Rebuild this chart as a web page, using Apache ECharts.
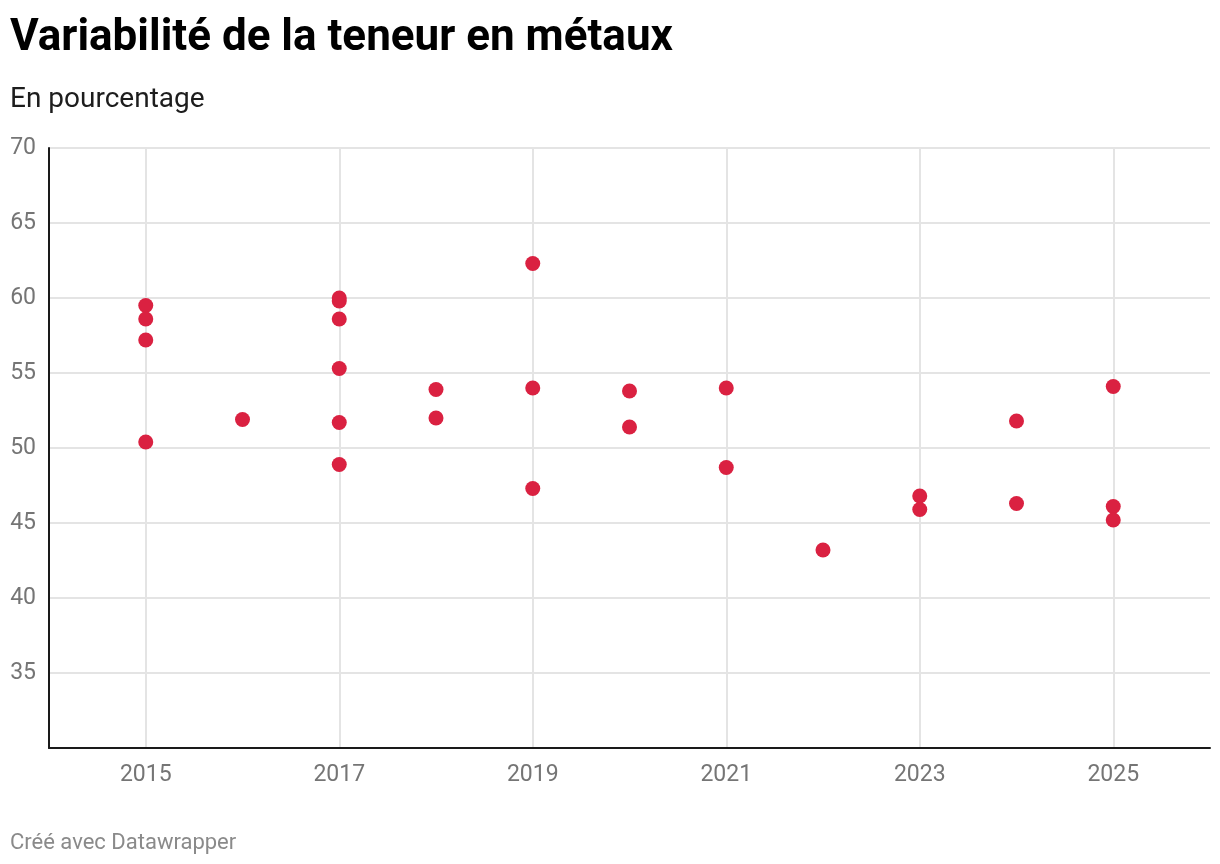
<!DOCTYPE html>
<html>
<head>
<meta charset="utf-8">
<script src="https://cdn.jsdelivr.net/npm/echarts@6/dist/echarts.min.js"></script>
<style>
  html, body { margin: 0; padding: 0; background: #fff; }
  #chart { width: 1220px; height: 864px; }
</style>
</head>
<body>
<div id="chart"></div>
<script>
// axe des années (catégories) et étiquettes affichées
const years = ['2014', '2015', '2016', '2017', '2018', '2019', '2020', '2021', '2022', '2023', '2024', '2025', '2026']
const labelYears = ['2015', '2017', '2019', '2021', '2023', '2025']

// points : année + teneur (%)
const pointYears = [
  '2015', '2015', '2015', '2015',
  '2016',
  '2017', '2017', '2017', '2017', '2017', '2017',
  '2018', '2018',
  '2019', '2019', '2019',
  '2020', '2020',
  '2021', '2021',
  '2022',
  '2023', '2023',
  '2024', '2024',
  '2025', '2025', '2025'
]
const pointValues = [
  59.5, 58.6, 57.2, 50.4,
  51.9,
  60.0, 59.8, 58.6, 55.3, 51.7, 48.9,
  53.9, 52.0,
  62.3, 54.0, 47.3,
  53.8, 51.4,
  54.0, 48.7,
  43.2,
  46.8, 45.9,
  51.8, 46.3,
  54.1, 46.1, 45.2
]

const chart = echarts.init(document.getElementById('chart'))

const showYear = (idx) => labelYears.includes(years[idx])

const option = {
  backgroundColor: '#ffffff',
  animation: false,
  title: [
    {
      text: 'Variabilité de la teneur en métaux',
      left: 10,
      top: 17,
      padding: 0,
      textStyle: { fontFamily: 'Roboto', fontWeight: 'bold', fontSize: 44, color: '#000000' }
    },
    {
      text: 'En pourcentage',
      left: 10,
      top: 86,
      padding: 0,
      textStyle: { fontFamily: 'Roboto', fontWeight: 'normal', fontSize: 28, color: '#1d1d1d' }
    },
    {
      text: 'Créé avec Datawrapper',
      left: 10,
      top: 832,
      padding: 0,
      textStyle: { fontFamily: 'Roboto', fontWeight: 'normal', fontSize: 22, color: '#8a8a8a' }
    }
  ],
  grid: {
    left: 49,
    right: 10,
    top: 148,
    bottom: 116,
    containLabel: false
  },
  xAxis: {
    type: 'category',
    data: years,
    boundaryGap: false,
    axisLine: { show: true, lineStyle: { color: '#1a1a1a', width: 2 } },
    axisTick: { show: false },
    axisLabel: {
      interval: (idx) => showYear(idx),
      margin: 16,
      fontFamily: 'Roboto',
      fontSize: 23,
      color: '#757575'
    },
    splitLine: {
      show: true,
      interval: (idx) => showYear(idx),
      lineStyle: { color: '#e4e4e4', width: 2 }
    }
  },
  yAxis: {
    type: 'value',
    min: 30,
    max: 70,
    interval: 5,
    axisLine: { show: true, lineStyle: { color: '#1a1a1a', width: 2 } },
    axisTick: { show: false },
    axisLabel: {
      margin: 13,
      padding: [4, 0, 0, 0],
      fontFamily: 'Roboto',
      fontSize: 23,
      color: '#757575',
      formatter: (v) => (v === 30 ? '' : String(v))
    },
    splitLine: { show: true, lineStyle: { color: '#e4e4e4', width: 2 } }
  },
  series: [
    {
      type: 'scatter',
      symbol: 'circle',
      symbolSize: 15,
      itemStyle: { color: '#da2141', opacity: 1 },
      data: pointYears.map((y, i) => [y, pointValues[i]])
    }
  ]
}

chart.setOption(option)
</script>
</body>
</html>
